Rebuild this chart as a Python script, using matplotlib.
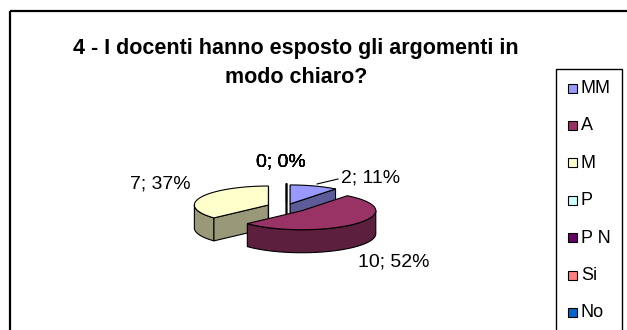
import numpy as np
import matplotlib
matplotlib.use("Agg")
import matplotlib.pyplot as plt
from matplotlib.patches import Polygon, Rectangle
from matplotlib.colors import to_rgb

# ---- data ----
categories = ["MM", "A", "M", "P", "P N", "Si", "No"]
counts = [2, 10, 7, 0, 0, 0, 0]
percents = [11, 52, 37, 0, 0, 0, 0]
colors = ["#9999FF", "#993366", "#FFFFCC", "#CCFFFF", "#660066", "#FF8080", "#0066CC"]
title = "4 - I docenti hanno esposto gli argomenti in\nmodo chiaro?"

# ---- layout (pixel units, y grows downward) ----
W, H = 627, 330
CX, CY = 286, 207          # pie centre
RX, RY = 74, 19            # top ellipse half-axes
DEPTH = 23                 # pie thickness
explode = [0.17, 0.29, 0.26, 0.26, 0.26, 0.26, 0.26]
label_xy = [(371, 178), (394, 262), (160, 184), (281, 162), (281, 162), (281, 162), (281, 162)]
leader = [True, False, False, False, False, False, False]
SIDE_SHADE = 0.6

plt.rcParams["font.family"] = ["Liberation Sans", "DejaVu Sans"]

fig = plt.figure(figsize=(W / 100, H / 100), dpi=100)
ax = fig.add_axes([0, 0, 1, 1])
ax.set_xlim(0, W)
ax.set_ylim(H, 0)
ax.axis("off")

# outer chart frame
ax.add_patch(Rectangle((9.5, 10.5), 700, 400, fill=False, ec="black", lw=1.6, zorder=1))

ax.text(296, 63, title, ha="center", va="center", fontsize=15.5, fontweight="bold",
        linespacing=1.45, color="black")


def ell(ox, oy, t_deg, dy=0.0):
    t = np.radians(t_deg)
    return ox + RX * np.sin(t), oy - RY * np.cos(t) + dy


def shade(c, k):
    r, g, b = to_rgb(c)
    return (r * k, g * k, b * k)


total = sum(counts)
angles = np.cumsum([0] + [360.0 * v / total for v in counts])
slices = []
for i, v in enumerate(counts):
    a0, a1 = angles[i], angles[i + 1]
    mid = 0.5 * (a0 + a1)
    m = np.radians(mid)
    ox = CX + explode[i] * RX * np.sin(m)
    oy = CY - explode[i] * RY * np.cos(m)
    slices.append((i, a0, a1, mid, ox, oy))

# paint back-to-front
order = sorted(slices, key=lambda s: s[5])
z = 2
for i, a0, a1, mid, ox, oy in order:
    col = colors[i]
    side = shade(col, SIDE_SHADE)
    edge = dict(ec="black", lw=0.8, joinstyle="miter")
    # outer curved wall (front half only)
    s0, s1 = max(a0, 90), min(a1, 270)
    if s1 > s0:
        tt = np.linspace(s0, s1, 80)
        xt, yt = ell(ox, oy, tt)
        xb, yb = ell(ox, oy, tt[::-1], DEPTH)
        ax.add_patch(Polygon(np.column_stack([np.r_[xt, xb], np.r_[yt, yb]]),
                             closed=True, fc=side, zorder=z, **edge))
    # radial cut faces facing the viewer
    for a, nrm in ((a0, a0 - 90), (a1, a1 + 90)):
        n = nrm % 360
        if 90 <= n <= 270:
            ex, ey = ell(ox, oy, a)
            quad = [(ox, oy), (ex, ey), (ex, ey + DEPTH), (ox, oy + DEPTH)]
            ax.add_patch(Polygon(quad, closed=True, fc=side, zorder=z, **edge))
    # top face
    tt = np.linspace(a0, a1, max(2, int(a1 - a0) + 2))
    xt, yt = ell(ox, oy, tt)
    ax.add_patch(Polygon(np.column_stack([np.r_[ox, xt], np.r_[oy, yt]]),
                         closed=True, fc=col, zorder=z + 0.5, **edge))
    z += 1

# data labels
for i, a0, a1, mid, ox, oy in slices:
    lx, ly = label_xy[i]
    txt = f"{counts[i]}; {percents[i]}%"
    t = ax.text(lx, ly, txt, ha="center", va="center", fontsize=14, color="black", zorder=20)
    if leader[i]:
        px, py = ell(ox, oy, mid)
        ax.plot([px + 3, lx - 33], [py - 2, ly + 1], color="black", lw=0.8, zorder=19)

# legend
LX, LY, PITCH = 555.5, 68.5, 37.4
ax.add_patch(Rectangle((LX, LY), 66.5, 300, fill=False, ec="black", lw=1.0, zorder=10))
for k, (name, col) in enumerate(zip(categories, colors)):
    yc = 88 + k * PITCH
    ax.add_patch(Rectangle((568, yc - 4.5), 9, 9, fc=col, ec="black", lw=0.8, zorder=11))
    ax.text(581, yc + 0.5, name, ha="left", va="center", fontsize=13, color="black", zorder=11)

fig.savefig("out.png", dpi=100)
